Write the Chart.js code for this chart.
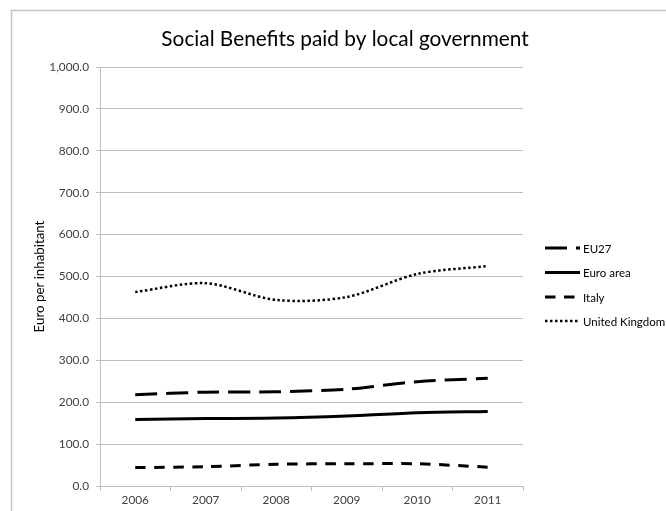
<!DOCTYPE html>
<html>
<head>
<meta charset="utf-8">
<script src="https://cdn.jsdelivr.net/npm/chart.js@4.4.1/dist/chart.umd.min.js"></script>
<style>
  html, body { margin: 0; padding: 0; background: #fff; }
  #wrap { width: 666px; height: 511px; }
</style>
</head>
<body>
<div id="wrap"><canvas id="c" width="666" height="511"></canvas></div>
<script>
// Social benefits paid by local government, euro per inhabitant
const years = ['2006', '2007', '2008', '2009', '2010', '2011'];
const eu27 = [218, 224, 225, 231, 249, 257];
const euroArea = [159, 161, 162, 167, 175, 178];
const italy = [44, 46, 52, 53, 53, 45];
const unitedKingdom = [463, 484, 444, 451, 506, 525];
const yTicks = [0, 100, 200, 300, 400, 500, 600, 700, 800, 900, 1000];

const chartTitle = 'Social Benefits paid by local government';
const yTitle = 'Euro per inhabitant';

const FONT = 'Lato, "Open Sans", "Liberation Sans", sans-serif';
const GRID = '#bfbfbf';
const TEXT = '#404040';

function fmt(v) {
  return v.toLocaleString('en-US', { minimumFractionDigits: 1, maximumFractionDigits: 1 });
}

function series(label, data, dash, width) {
  return {
    label, data,
    borderColor: '#000',
    backgroundColor: '#000',
    borderWidth: width,
    borderDash: dash,
    borderCapStyle: 'butt',
    pointRadius: 0,
    pointHoverRadius: 0,
    tension: 0.3,
    fill: false
  };
}

// outer frame, title and right-hand legend
const decor = {
  id: 'decor',
  beforeDraw(chart) {
    const ctx = chart.ctx;
    ctx.save();
    ctx.fillStyle = '#fff';
    ctx.fillRect(0, 0, chart.width, chart.height);
    ctx.strokeStyle = '#c4c4c4';
    ctx.lineWidth = 1.5;
    ctx.beginPath();
    ctx.moveTo(11.5, chart.height);
    ctx.lineTo(11.5, 10.5);
    ctx.lineTo(chart.width, 10.5);
    ctx.stroke();
    ctx.restore();
  },
  afterDraw(chart) {
    const ctx = chart.ctx;
    ctx.save();
    ctx.fillStyle = '#000';
    ctx.font = '20.8px ' + FONT;
    ctx.textAlign = 'center';
    ctx.textBaseline = 'middle';
    ctx.fillText(chartTitle, 345, 39);

    const rows = [248, 272.5, 297, 321];
    ctx.font = '11.5px ' + FONT;
    ctx.textAlign = 'left';
    chart.data.datasets.forEach((ds, i) => {
      const y = rows[i];
      ctx.strokeStyle = ds.borderColor;
      ctx.lineWidth = ds.borderWidth;
      ctx.setLineDash(ds.borderDash || []);
      ctx.beginPath();
      ctx.moveTo(545, y);
      ctx.lineTo(580, y);
      ctx.stroke();
      ctx.setLineDash([]);
      ctx.fillStyle = '#000';
      ctx.fillText(ds.label, 583, y + 1);
    });
    ctx.restore();
  }
};

new Chart(document.getElementById('c'), {
  type: 'line',
  data: {
    labels: years,
    datasets: [
      series('EU27', eu27, [22, 9], 3),
      series('Euro area', euroArea, [], 3),
      series('Italy', italy, [10.5, 8.5], 3),
      series('United Kingdom', unitedKingdom, [2.5, 2.5], 2.5)
    ]
  },
  options: {
    responsive: false,
    devicePixelRatio: 1,
    animation: false,
    layout: { padding: { top: 67, right: 143, bottom: 0, left: 0 } },
    plugins: {
      legend: { display: false },
      title: { display: false },
      tooltip: { enabled: false }
    },
    scales: {
      x: {
        type: 'category',
        offset: true,
        grid: {
          display: true,
          offset: true,
          drawOnChartArea: false,
          drawTicks: true,
          tickLength: 5,
          color: GRID
        },
        border: { color: GRID, width: 1 },
        ticks: { font: { family: FONT, size: 11.8 }, color: TEXT, padding: 2, maxRotation: 0 },
        afterFit(s) { s.height = 25; }
      },
      y: {
        min: 0,
        max: 1000,
        afterBuildTicks(s) { s.ticks = yTicks.map(v => ({ value: v })); },
        grid: { color: GRID, tickLength: 4, drawTicks: true },
        border: { color: GRID, width: 1 },
        ticks: {
          font: { family: FONT, size: 11.8 },
          color: TEXT,
          padding: 7,
          callback: v => fmt(v)
        },
        title: {
          display: true,
          text: yTitle,
          font: { family: FONT, size: 13.3 },
          color: '#000',
          padding: { top: 32, bottom: 0 }
        },
        afterFit(s) { s.width = 100; }
      }
    }
  },
  plugins: [decor]
});
</script>
</body>
</html>
